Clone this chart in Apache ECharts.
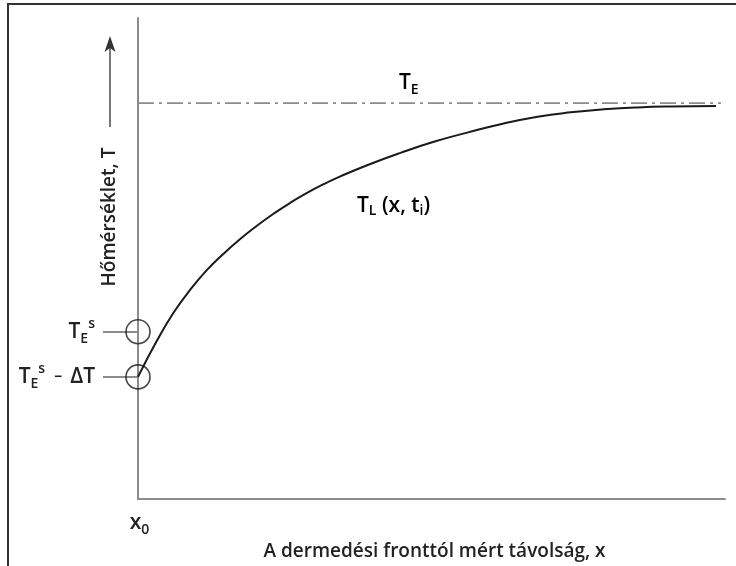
<!DOCTYPE html>
<html>
<head>
<meta charset="utf-8">
<script src="https://cdn.jsdelivr.net/npm/echarts@6/dist/echarts.min.js"></script>
<style>
html,body{margin:0;padding:0;background:#fff;}
#chart{width:736px;height:566px;}
</style>
</head>
<body>
<div id="chart"></div>
<script>
// ---- data (arbitrary units 0..100) ----
const curveX = [0, 3.19, 6.02, 8.87, 11.72, 14.56, 17.41, 20.26, 23.09, 25.94, 28.79, 31.62, 34.47, 39.03, 44.71, 50.39, 56.09, 61.77, 68.09, 73.72, 79.35, 85.15, 90.78, 98.46];
const curveY = [25.4, 32.85, 38.67, 43.47, 47.58, 50.99, 54.07, 56.82, 59.31, 61.59, 63.64, 65.45, 67.07, 69.40, 71.97, 74.27, 76.18, 77.93, 79.47, 80.39, 81.01, 81.42, 81.62, 81.72];
const equilibriumT = 82.3;            // T_E level
const equilibriumXEnd = 99.3;         // end of the dash-dot line
const circleX = [0, 0];
const circleY = [34.8, 25.4];         // T_E^s, T_E^s - ΔT
const yTickLabels = ['{t|T}{sub|E}{sup|s}', '{t|T}{sub|E}{sup|s}{m|–}{t|ΔT}'];
const xTickValues = [0];
const xTickLabels = ['{t|x}{sub|0}'];
const xTitle = 'A dermedési fronttól mért távolság, x';
const yTitle = 'Hőmérséklet, T';
const teLabel = '{t|T}{sub|E}';
const tlLabel = '{t|T}{sub|L}{t| (x, t}{sub|i}{t|)}';

const FONT = 'Open Sans';
const TXT = '#222';
function makeRich(lh) {
  return {
    t: {fontFamily: FONT, fontWeight: 600, fontSize: 21, color: TXT, lineHeight: lh, verticalAlign: 'middle'},
    m: {fontFamily: FONT, fontWeight: 600, fontSize: 16, color: TXT, lineHeight: lh, verticalAlign: 'middle', padding: [0, 8, 0, 9]},
    sub: {fontFamily: FONT, fontWeight: 600, fontSize: 14, color: TXT, verticalAlign: 'bottom', lineHeight: 14},
    sup: {fontFamily: FONT, fontWeight: 600, fontSize: 14, color: TXT, verticalAlign: 'top', lineHeight: 14}
  };
}
const rich = makeRich(29);
const richL = makeRich(24);

const chart = echarts.init(document.getElementById('chart'), null, {renderer: 'canvas'});
const option = {
  backgroundColor: '#fff',
  animation: false,
  grid: {left: 138, right: 11, top: 18, bottom: 61, containLabel: false},
  xAxis: {
    type: 'value', min: 0, max: 100,
    splitLine: {show: false},
    axisLine: {show: true, lineStyle: {color: '#8c8c8c', width: 2}},
    axisTick: {show: false},
    axisLabel: {
      show: true, customValues: xTickValues, margin: 9,
      formatter: function (v) { return xTickLabels[xTickValues.indexOf(v)] || ''; },
      rich: rich, padding: [0, 0, 0, 3]
    },
    name: xTitle, nameLocation: 'middle', nameGap: 39,
    nameTextStyle: {fontFamily: FONT, fontWeight: 600, fontSize: 19, color: TXT, padding: [0, 0, 0, 6]}
  },
  yAxis: {
    type: 'value', min: 0, max: 100,
    splitLine: {show: false},
    axisLine: {show: true, lineStyle: {color: '#8c8c8c', width: 2}},
    axisTick: {show: true, customValues: circleY, length: 35, lineStyle: {color: '#8c8c8c', width: 2}},
    axisLabel: {
      show: true, customValues: circleY, margin: 43,
      formatter: function (v) { return yTickLabels[circleY.indexOf(v)] || ''; },
      rich: rich
    }
  },
  series: [
    {
      type: 'line', name: 'T_E', silent: true, symbol: 'none',
      data: [[0, equilibriumT], [equilibriumXEnd, equilibriumT]],
      lineStyle: {color: '#8c8c8c', width: 1.8, type: [16, 5, 3, 5]}
    },
    {
      type: 'line', name: 'T_L', silent: true, symbol: 'none', smooth: 0.5,
      data: curveX.map((x, i) => [x, curveY[i]]),
      lineStyle: {color: '#1a1a1a', width: 2}
    },
    {
      type: 'scatter', silent: true, symbol: 'circle', symbolSize: 24,
      data: circleX.map((x, i) => [x, circleY[i]]),
      itemStyle: {color: 'rgba(0,0,0,0)', borderColor: '#1a1a1a', borderWidth: 1.6},
      z: 5
    }
  ],
  graphic: [
    {type: 'rect', shape: {x: 8, y: 4, width: 800, height: 700}, style: {fill: 'none', stroke: '#333', lineWidth: 2}, silent: true},
    {type: 'line', shape: {x1: 110, y1: 127, x2: 110, y2: 46}, style: {stroke: '#555', lineWidth: 1.6}},
    {type: 'polygon', shape: {points: [[110, 36], [104.5, 52], [110, 48], [115.5, 52]]}, style: {fill: '#333'}},
    {type: 'text', x: 110, y: 217, rotation: Math.PI / 2,
      style: {text: yTitle, fontFamily: FONT, fontWeight: 600, fontSize: 19, fill: TXT, align: 'center', verticalAlign: 'middle'}},
    {type: 'text', x: 399, y: 83,
      style: {text: teLabel, rich: rich, align: 'left', verticalAlign: 'middle'}},
    {type: 'text', x: 357, y: 206,
      style: {text: tlLabel, rich: richL, align: 'left', verticalAlign: 'middle'}}
  ]
};
chart.setOption(option);
</script>
</body>
</html>
